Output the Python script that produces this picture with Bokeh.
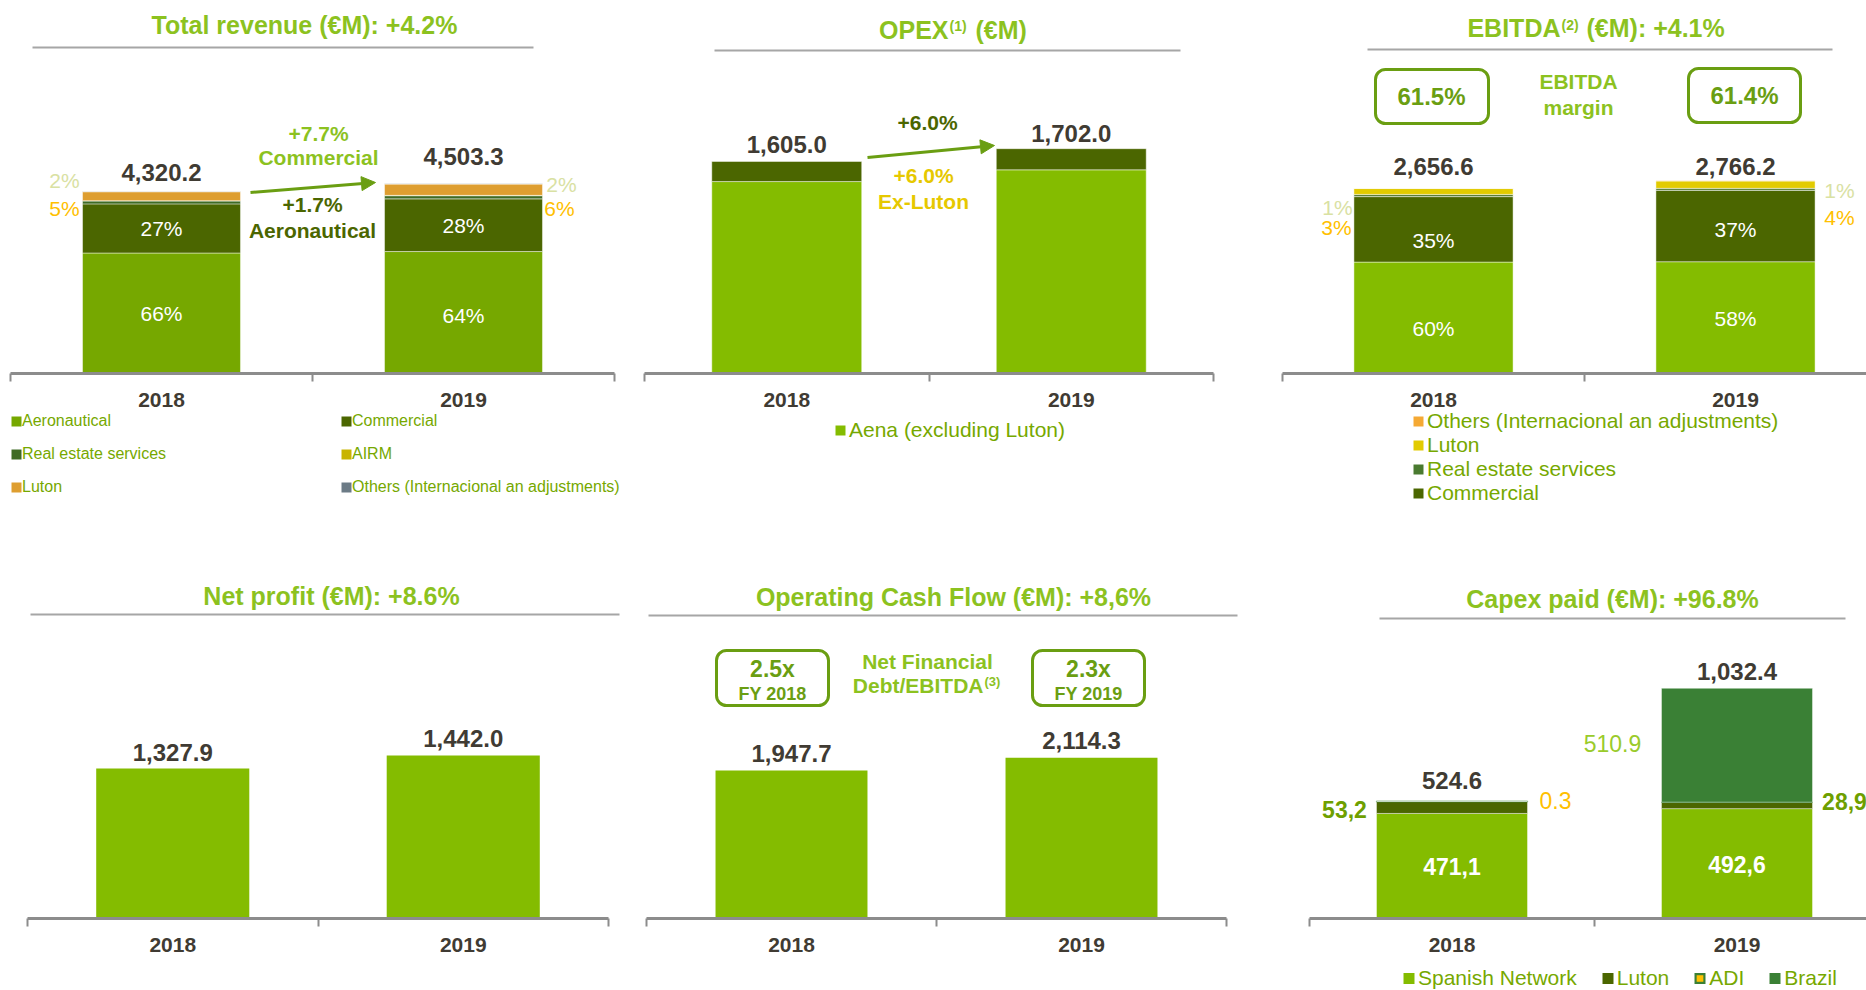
from bokeh.plotting import figure
from bokeh.models import (Range1d, FixedTicker, Label, BoxAnnotation, Arrow, NormalHead,
                          Legend, LegendItem, ColumnDataSource, LinearAxis)
from bokeh.layouts import row, column
from bokeh.core.properties import value
from bokeh.embed import file_html
from bokeh.resources import INLINE

# ---------------- data ----------------
years = ["2018", "2019"]

rev_total = [4320.2, 4503.3]
rev_aeronautical = [2860.0, 2895.0]
rev_commercial = [1166.0, 1250.0]
rev_real_estate = [70.0, 75.0]
rev_airm = [6.0, 8.0]
rev_luton = [212.0, 268.0]
rev_others = [6.2, 7.3]

opex_total = [1605.0, 1702.0]
opex_aena_ex_luton = [1453.0, 1542.0]
opex_luton = [152.0, 160.0]

ebitda_total = [2656.6, 2766.2]
ebitda_aeronautical = [1600.0, 1605.0]
ebitda_commercial = [940.0, 1024.0]
ebitda_real_estate = [32.0, 30.0]
ebitda_luton = [84.0, 107.0]
ebitda_others = [0.6, 0.2]
ebitda_margin = ["61.5%", "61.4%"]

net_profit = [1327.9, 1442.0]
operating_cash_flow = [1947.7, 2114.3]
nfd_ebitda = ["2.5x", "2.3x"]

capex_total = [524.6, 1032.4]
capex_spanish = [471.1, 492.6]
capex_luton = [53.2, 28.9]
capex_adi = [0.3, 0.0]
capex_brazil = [0.0, 510.9]

# ---------------- styles ----------------
FONT = "Liberation Sans"
DARK = "#403B33"
TGREEN = "#8CC21F"
MGREEN = "#6A9E12"
OLIVE = "#4B6600"
LGREEN = "#84BC00"
AGREEN = "#76A800"
RE_GREEN = "#3F6B24"
AXIS = "#8C8C8C"
RULE = "#A6A6A6"
ORANGE = "#FFC000"
PALE = "#D9E1A3"
LEGTXT = "#76A800"
LUTON_OR = "#DE9E30"
AIRM_Y = "#C8B400"
OTH_GRAY = "#6C7B86"
LUTON_Y = "#E2CB00"
OTH_OR = "#F5A934"
BRAZIL = "#3A8035"

xs = list(range(len(years)))
NAN = float("nan")


class Panel:
    def __init__(self, x0, y0, w, h, fl, fb, cat, ppu, standoff=11):
        self.x0, self.fl, self.fb, self.cat, self.ppu = x0, fl, fb, cat, ppu
        self.bottom = y0 + h
        x_end = (x0 + w - fl) / cat - 0.5
        p = figure(width=w, height=h, output_backend="svg", toolbar_location=None,
                   x_range=Range1d((x0 - fl) / cat - 0.5, x_end),
                   y_range=Range1d(-(y0 + h - fb) / ppu, (fb - y0) / ppu),
                   x_axis_location=None, y_axis_location=None,
                   min_border_left=0, min_border_right=0,
                   min_border_top=0, min_border_bottom=0)
        p.outline_line_color = None
        p.grid.visible = False
        ax = LinearAxis(fixed_location=0, bounds=(-0.5, min(len(years) - 0.5, x_end)))
        ax.ticker = FixedTicker(ticks=xs, minor_ticks=[i - 0.5 for i in range(len(years) + 1)])
        ax.major_label_overrides = {i: y for i, y in enumerate(years)}
        ax.axis_line_color = AXIS
        ax.axis_line_width = 3
        ax.major_tick_line_color = None
        ax.major_tick_out = 0
        ax.major_tick_in = 0
        ax.minor_tick_line_color = AXIS
        ax.minor_tick_line_width = 2
        ax.minor_tick_out = 8
        ax.minor_tick_in = 0
        ax.major_label_text_font = FONT
        ax.major_label_text_font_size = "21px"
        ax.major_label_text_font_style = "bold"
        ax.major_label_text_color = DARK
        ax.major_label_standoff = standoff
        p.add_layout(ax, "below")
        self.p = p

    def dx(self, X):
        return (X - self.fl) / self.cat - 0.5

    def dy(self, Y):
        return (self.fb - Y) / self.ppu


def label(P, X, Y, text, size, color, bold=False, align="center"):
    P.p.add_layout(Label(x=P.dx(X), y=P.dy(Y), text=text, text_font=FONT,
                         text_font_size=f"{size}px",
                         text_font_style="bold" if bold else "normal",
                         text_color=color, text_align=align, text_baseline="middle"))


def rule(P, X0, X1, Y, t=2):
    P.p.add_layout(BoxAnnotation(left=P.dx(X0), right=P.dx(X1), top=P.dy(Y - t / 2),
                                 bottom=P.dy(Y + t / 2), fill_color=RULE, fill_alpha=1,
                                 line_color=None))


def rbox(P, X0, X1, Y0, Y1):
    P.p.add_layout(BoxAnnotation(left=P.dx(X0), right=P.dx(X1), top=P.dy(Y0), bottom=P.dy(Y1),
                                 fill_alpha=0, line_color=MGREEN, line_alpha=1, line_width=3,
                                 border_radius=10))


def arrow(P, X0, Y0, X1, Y1):
    P.p.add_layout(Arrow(end=NormalHead(size=14, fill_color=MGREEN, line_color=MGREEN),
                         x_start=P.dx(X0), y_start=P.dy(Y0), x_end=P.dx(X1), y_end=P.dy(Y1),
                         line_color=MGREEN, line_width=3))


def totals(P, vals, offs):
    P.p.text(x=xs, y=vals, text=[f"{v:,.1f}" for v in vals], y_offset=offs,
             text_font=value(FONT), text_font_size="24px", text_font_style="bold",
             text_color=DARK, text_align="center", text_baseline="middle")


def inner(P, ys, texts, offs, size, bold):
    P.p.text(x=xs, y=ys, text=texts, y_offset=offs, text_font=value(FONT),
             text_font_size=f"{size}px", text_font_style="bold" if bold else "normal",
             text_color="white", text_align="center", text_baseline="middle")


def pct(v, t):
    return f"{round(100 * v / t)}%"


def swatch(P, fill, line, gw, marker_px, border=None):
    """legend-only square swatches (one NaN point: never drawn on the plot)"""
    inner_px = 0.4 * gw
    rs = []
    if border is None:
        rs.append(P.p.scatter(x=[NAN], y=[NAN], marker="square", fill_color=fill,
                              line_color=fill, line_width=marker_px - inner_px,
                              line_join="miter"))
    else:
        rs.append(P.p.scatter(x=[NAN], y=[NAN], marker="square", fill_color=border,
                              line_color=border, line_width=marker_px - inner_px,
                              line_join="miter"))
        rs.append(P.p.scatter(x=[NAN], y=[NAN], marker="square", fill_color=fill,
                              line_color=fill, line_width=1.5, line_join="miter"))
    return rs


def add_legend(P, entries, marker_left, text_left, first_cy, font_px, marker_px, item_h,
               pitch=None, horizontal=False, spacing=0):
    gw = int(round(marker_px + 2))
    items = []
    for lab, fill, border in entries:
        items.append(LegendItem(label=lab, renderers=swatch(P, fill, None, gw, marker_px, border)))
    area_left = marker_left - (gw - marker_px) / 2
    standoff = max(0, int(round(text_left - (area_left + gw))))
    n = len(entries)
    if horizontal:
        H = item_h
        sp = spacing
    else:
        sp = int(round(pitch - item_h))
        H = n * item_h + (n - 1) * sp
    top = first_cy - item_h / 2
    leg = Legend(items=items, location=(area_left - P.x0, P.bottom - (top + H)),
                 orientation="horizontal" if horizontal else "vertical",
                 glyph_width=gw, glyph_height=item_h, label_height=item_h, label_width=10,
                 label_standoff=standoff, spacing=sp, padding=0, margin=0,
                 border_line_color=None, background_fill_alpha=0,
                 label_text_font=FONT, label_text_font_size=f"{font_px}px",
                 label_text_color=LEGTXT)
    P.p.add_layout(leg)


SEG = dict(line_color="white", line_alpha=0.45, line_width=1)

# ================= Panel A : Total revenue =================
PA = Panel(0, 0, 630, 530, 10, 373, 302, 0.04213)
srcA = ColumnDataSource(dict(x=xs, aero=rev_aeronautical, comm=rev_commercial,
                             re=rev_real_estate, airm=rev_airm, luton=rev_luton,
                             others=rev_others))
PA.p.vbar_stack(["aero", "comm", "re", "airm", "luton", "others"], x="x", width=0.523,
                source=srcA,
                fill_color=[AGREEN, OLIVE, RE_GREEN, AIRM_Y, LUTON_OR, OTH_GRAY], **SEG)
label(PA, 304, 24, "Total revenue (€M): +4.2%", 25, TGREEN, True)
rule(PA, 32, 533, 47)
totals(PA, rev_total, [-19, -27])
inner(PA, [a / 2 for a in rev_aeronautical], [pct(a, t) for a, t in zip(rev_aeronautical, rev_total)],
      [0, 3], 21, False)
inner(PA, [a + c / 2 for a, c in zip(rev_aeronautical, rev_commercial)],
      [pct(c, t) for c, t in zip(rev_commercial, rev_total)], [0, 0], 21, False)
label(PA, 64, 180, pct(rev_real_estate[0], rev_total[0]), 21, PALE)
label(PA, 64, 208, pct(rev_luton[0], rev_total[0]), 21, ORANGE)
label(PA, 561, 184, pct(rev_real_estate[1], rev_total[1]), 21, PALE)
label(PA, 559, 208, pct(rev_luton[1], rev_total[1]), 21, ORANGE)
arrow(PA, 250, 192, 375, 182)
label(PA, 318, 133, "+7.7%", 21, TGREEN, True)
label(PA, 318, 157, "Commercial", 21, TGREEN, True)
label(PA, 312, 204, "+1.7%", 21, OLIVE, True)
label(PA, 312, 230, "Aeronautical", 21, OLIVE, True)
add_legend(PA, [("Aeronautical", AGREEN, None), ("Real estate services", RE_GREEN, None),
                ("Luton", LUTON_OR, None)], 11, 22, 421, 16, 10, 18, pitch=33)
add_legend(PA, [("Commercial", OLIVE, None), ("AIRM", AIRM_Y, None),
                ("Others (Internacional an adjustments)", OTH_GRAY, None)],
           341, 352, 421, 16, 10, 18, pitch=33)

# ================= Panel B : OPEX =================
PB = Panel(630, 0, 630, 530, 644, 373, 284.5, 0.13209)
srcB = ColumnDataSource(dict(x=xs, aena=opex_aena_ex_luton, luton=opex_luton))
PB.p.vbar_stack(["aena", "luton"], x="x", width=0.527, source=srcB,
                fill_color=[LGREEN, OLIVE], **SEG)
label(PB, 948, 29, "OPEX", 25, TGREEN, True, "right")
label(PB, 949, 25, "(1)", 14, TGREEN, True, "left")
label(PB, 975, 29, "(€M)", 25, TGREEN, True, "left")
rule(PB, 714, 1180, 50)
totals(PB, opex_total, [-17, -15])
arrow(PB, 867, 157, 994, 145)
label(PB, 927, 122, "+6.0%", 21, OLIVE, True)
label(PB, 923, 175, "+6.0%", 21, "#E6C800", True)
label(PB, 923, 201, "Ex-Luton", 21, "#E6C800", True)
add_legend(PB, [("Aena (excluding Luton)", LGREEN, None)], 835, 849, 430, 21, 10, 24, pitch=24)

# ================= Panel C : EBITDA =================
PC = Panel(1260, 0, 606, 530, 1282, 373, 302, 0.069638)
srcC = ColumnDataSource(dict(x=xs, aero=ebitda_aeronautical, comm=ebitda_commercial,
                             re=ebitda_real_estate, luton=ebitda_luton, others=ebitda_others))
PC.p.vbar_stack(["aero", "comm", "re", "luton", "others"], x="x", width=0.527, source=srcC,
                fill_color=[LGREEN, OLIVE, "#5A7F3A", LUTON_Y, OTH_OR], **SEG)
label(PC, 1560, 27, "EBITDA", 25, TGREEN, True, "right")
label(PC, 1561, 24, "(2)", 14, TGREEN, True, "left")
label(PC, 1586, 27, "(€M): +4.1%", 25, TGREEN, True, "left")
rule(PC, 1367, 1832, 49)
rbox(PC, 1375, 1488, 69, 123)
rbox(PC, 1688, 1800, 68, 122)
label(PC, 1431, 96, ebitda_margin[0], 24, MGREEN, True)
label(PC, 1744, 95, ebitda_margin[1], 24, MGREEN, True)
label(PC, 1578, 81, "EBITDA", 21, TGREEN, True)
label(PC, 1578, 107, "margin", 21, TGREEN, True)
totals(PC, ebitda_total, [-22, -14])
inner(PC, [a / 2 for a in ebitda_aeronautical],
      [pct(a, t) for a, t in zip(ebitda_aeronautical, ebitda_total)], [11, 1], 21, False)
inner(PC, [a + c / 2 for a, c in zip(ebitda_aeronautical, ebitda_commercial)],
      [pct(c, t) for c, t in zip(ebitda_commercial, ebitda_total)], [11, 3], 21, False)
label(PC, 1337, 207, pct(ebitda_real_estate[0], ebitda_total[0]), 21, PALE)
label(PC, 1336, 227, pct(ebitda_luton[0], ebitda_total[0]), 21, ORANGE)
label(PC, 1839, 190, pct(ebitda_real_estate[1], ebitda_total[1]), 21, PALE)
label(PC, 1839, 217, pct(ebitda_luton[1], ebitda_total[1]), 21, ORANGE)
add_legend(PC, [("Others (Internacional an adjustments)", OTH_OR, None),
                ("Luton", LUTON_Y, None),
                ("Real estate services", "#4A7A30", None),
                ("Commercial", OLIVE, None)], 1413, 1427, 421, 21, 10, 24, pitch=24)

# ================= Panel D : Net profit =================
PD = Panel(0, 530, 630, 460, 27, 918, 290.5, 0.11296)
PD.p.vbar(x=xs, top=net_profit, width=0.527, fill_color=LGREEN, line_color=None)
label(PD, 331, 595, "Net profit (€M): +8.6%", 25, TGREEN, True)
rule(PD, 30, 619, 614)
totals(PD, net_profit, [-16, -17])

# ================= Panel E : Operating cash flow =================
PE = Panel(630, 530, 630, 460, 646, 918, 290, 0.075987)
PE.p.vbar(x=xs, top=operating_cash_flow, width=0.524, fill_color=LGREEN, line_color=None)
label(PE, 953, 596, "Operating Cash Flow (€M): +8,6%", 25, TGREEN, True)
rule(PE, 648, 1237, 615)
rbox(PE, 716, 828, 650, 705)
rbox(PE, 1032, 1144, 650, 705)
label(PE, 772, 668, nfd_ebitda[0], 23, MGREEN, True)
label(PE, 772, 693, f"FY {years[0]}", 18, MGREEN, True)
label(PE, 1088, 668, nfd_ebitda[1], 23, MGREEN, True)
label(PE, 1088, 693, f"FY {years[1]}", 18, MGREEN, True)
label(PE, 927, 661, "Net Financial", 21, TGREEN, True)
label(PE, 983, 685, "Debt/EBITDA", 21, TGREEN, True, "right")
label(PE, 984, 681, "(3)", 13, TGREEN, True, "left")
totals(PE, operating_cash_flow, [-17, -17])

# ================= Panel F : Capex paid =================
PF = Panel(1260, 530, 606, 460, 1309, 918, 285, 0.22303)
srcF = ColumnDataSource(dict(x=xs, spanish=capex_spanish, luton=capex_luton, adi=capex_adi,
                             brazil=capex_brazil))
PF.p.vbar_stack(["spanish", "luton", "adi", "brazil"], x="x", width=0.53, source=srcF,
                fill_color=[LGREEN, OLIVE, ORANGE, BRAZIL],
                line_color=["white", "white", BRAZIL, "white"],
                line_alpha=[0.45, 0.45, 1.0, 0.45], line_width=[1, 1, 1.5, 1])
label(PF, 1612, 598, "Capex paid (€M): +96.8%", 25, TGREEN, True)
rule(PF, 1379, 1845, 618)
totals(PF, capex_total, [-21, -17])
inner(PF, [s / 2 for s in capex_spanish], [f"{s:.1f}".replace(".", ",") for s in capex_spanish],
      [1, 1], 23, True)
label(PF, 1344, 809, f"{capex_luton[0]:.1f}".replace(".", ","), 23, "#6E9F00", True)
label(PF, 1555, 800, f"{capex_adi[0]:.1f}", 23, ORANGE)
label(PF, 1612, 743, f"{capex_brazil[1]:.1f}", 23, "#9ACB2B")
label(PF, 1844, 801, f"{capex_luton[1]:.1f}".replace(".", ","), 23, "#6E9F00", True)
add_legend(PF, [("Spanish Network", LGREEN, None), ("Luton", OLIVE, None),
                ("ADI", ORANGE, BRAZIL), ("Brazil", BRAZIL, None)],
           1403, 1418, 978, 21, 11, 24, horizontal=True, spacing=24)

layout = column(row(PA.p, PB.p, PC.p), row(PD.p, PE.p, PF.p))
open("out.html", "w").write(file_html(layout, INLINE))
